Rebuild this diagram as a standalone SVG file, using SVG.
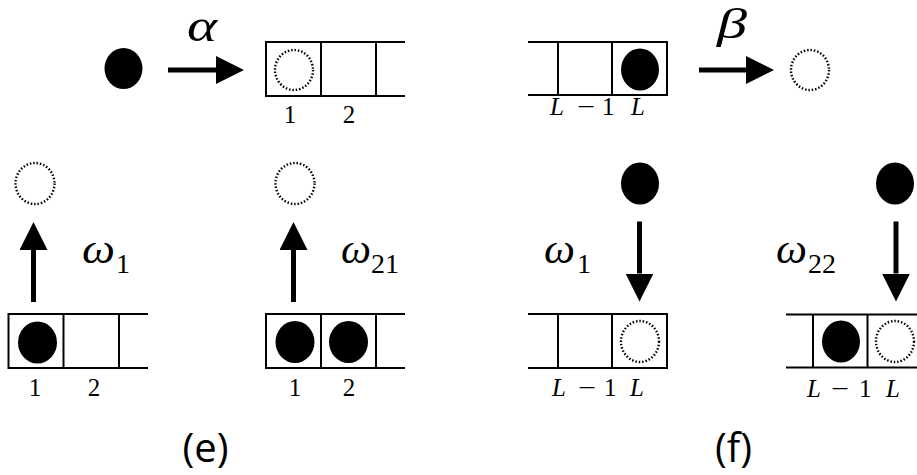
<svg xmlns="http://www.w3.org/2000/svg" width="917" height="475" viewBox="0 0 917 475">
  <style>
    .cell { fill: none; stroke: #000; stroke-width: 2; }
    .full { fill: #000; }
    .empty { fill: none; stroke: #000; stroke-width: 2.4; stroke-dasharray: 1.5 1.9; }
    .shaft { stroke: #000; stroke-width: 5; fill: none; }
    .math { font-family: "Liberation Serif", "DejaVu Serif", serif; font-style: italic; fill: #000; }
    .num { font-family: "Liberation Serif", "DejaVu Serif", serif; font-size: 25px; fill: #000; }
    .idx { font-family: "Liberation Serif", "DejaVu Serif", serif; font-size: 25px; fill: #000; }
    .sub { font-family: "Liberation Serif", "DejaVu Serif", serif; font-size: 28px; fill: #000; }
    .panel { font-family: "Open Sans", "DejaVu Sans", sans-serif; font-size: 40px; fill: #000; text-anchor: middle; }
  </style>
  <defs>
    <marker id="head" markerUnits="userSpaceOnUse" markerWidth="28" markerHeight="28" refX="0" refY="14" orient="auto">
      <path d="M0,0 L28,14 L0,28 z" fill="#000"/>
    </marker>
  </defs>

  <!-- (e) top: particle entering site 1 -->
  <g id="inject-source">
    <ellipse class="full" cx="123.5" cy="68.5" rx="19" ry="20.5"/>
  </g>
  <g id="inject-lattice">
    <path class="cell" d="M405,42 H266 V96 H405 M321,42 V96 M376,42 V96"/>
    <ellipse class="empty" cx="294" cy="70" rx="19" ry="20"/>
    <text class="num" x="290" y="123" text-anchor="middle">1</text>
    <text class="num" x="349" y="123" text-anchor="middle">2</text>
  </g>
  <text class="math" x="187" y="41" font-size="46" textLength="30" lengthAdjust="spacingAndGlyphs">α</text>

  <!-- (f) top: particle leaving site L -->
  <g id="eject-lattice">
    <path class="cell" d="M528,42 H667 V95 H528 M558,42 V95 M612,42 V95"/>
    <ellipse class="full" cx="640" cy="69.5" rx="19" ry="21"/>
    <text class="idx" y="115"><tspan class="math" x="550">L</tspan><tspan x="577" textLength="18" lengthAdjust="spacingAndGlyphs">−</tspan><tspan x="602">1</tspan><tspan class="math" x="631">L</tspan></text>
  </g>
  <g id="eject-target">
    <ellipse class="empty" cx="810" cy="70" rx="19" ry="20"/>
  </g>
  <text class="math" x="717" y="38" font-size="42" textLength="30" lengthAdjust="spacingAndGlyphs">β</text>

  <!-- (e) bottom left: site 1 empties, rate w1 -->
  <g id="e-out-1">
    <ellipse class="empty" cx="35" cy="183.5" rx="19.5" ry="20.5"/>
  </g>
  <g id="e-lattice-1">
    <path class="cell" d="M148,314 H8.5 V368 H148 M63.5,314 V368 M119,314 V368"/>
    <ellipse class="full" cx="37.5" cy="342.5" rx="19.5" ry="21"/>
    <text class="num" x="35" y="396" text-anchor="middle">1</text>
    <text class="num" x="94" y="396" text-anchor="middle">2</text>
  </g>
  <text x="82" y="263"><tspan class="math" font-size="42" textLength="33" lengthAdjust="spacingAndGlyphs">ω</tspan><tspan class="sub" x="116" y="273">1</tspan></text>

  <!-- (e) bottom right: site 1 empties with site 2 occupied, rate w21 -->
  <g id="e-out-2">
    <ellipse class="empty" cx="295" cy="183.5" rx="19.5" ry="20.5"/>
  </g>
  <g id="e-lattice-2">
    <path class="cell" d="M405,314 H266 V368 H405 M321,314 V368 M376,314 V368"/>
    <ellipse class="full" cx="295" cy="342" rx="19.5" ry="21"/>
    <ellipse class="full" cx="348.5" cy="342" rx="19.5" ry="21"/>
    <text class="num" x="295" y="396" text-anchor="middle">1</text>
    <text class="num" x="349" y="396" text-anchor="middle">2</text>
  </g>
  <text x="341" y="263"><tspan class="math" font-size="42" textLength="30" lengthAdjust="spacingAndGlyphs">ω</tspan><tspan class="sub" x="371" y="273">21</tspan></text>

  <!-- (f) bottom left: site L filled, rate w1 -->
  <g id="f-in-1">
    <ellipse class="full" cx="640" cy="183.5" rx="19" ry="21"/>
  </g>
  <g id="f-lattice-1">
    <path class="cell" d="M528,314 H667 V368 H528 M558,314 V368 M612,314 V368"/>
    <ellipse class="empty" cx="640" cy="341.5" rx="19" ry="20.5"/>
    <text class="idx" y="396"><tspan class="math" x="552">L</tspan><tspan x="578" textLength="18" lengthAdjust="spacingAndGlyphs">−</tspan><tspan x="604">1</tspan><tspan class="math" x="630">L</tspan></text>
  </g>
  <text x="544" y="263"><tspan class="math" font-size="42" textLength="31" lengthAdjust="spacingAndGlyphs">ω</tspan><tspan class="sub" x="577" y="273">1</tspan></text>

  <!-- (f) bottom right: site L filled with L-1 occupied, rate w22 -->
  <g id="f-in-2">
    <ellipse class="full" cx="895" cy="183.5" rx="19" ry="21"/>
  </g>
  <g id="f-lattice-2">
    <path class="cell" d="M786,314.5 H930 M786,367.5 H930 M813,314.5 V367.5 M867.5,314.5 V367.5"/>
    <ellipse class="full" cx="841" cy="341.5" rx="19" ry="21"/>
    <ellipse class="empty" cx="895" cy="341.5" rx="19" ry="20.5"/>
    <text class="idx" y="397"><tspan class="math" x="807">L</tspan><tspan x="831" textLength="18" lengthAdjust="spacingAndGlyphs">−</tspan><tspan x="859">1</tspan><tspan class="math" x="886">L</tspan></text>
  </g>
  <text x="776" y="263"><tspan class="math" font-size="42" textLength="31" lengthAdjust="spacingAndGlyphs">ω</tspan><tspan class="sub" x="808" y="273">22</tspan></text>

  <!-- transition arrows -->
  <g id="connectors">
    <line class="shaft" x1="168" y1="70" x2="216" y2="70" marker-end="url(#head)"/>
    <line class="shaft" x1="699" y1="70" x2="746" y2="70" marker-end="url(#head)"/>
    <line class="shaft" x1="33.5" y1="302" x2="33.5" y2="250" marker-end="url(#head)"/>
    <line class="shaft" x1="293.5" y1="302" x2="293.5" y2="250" marker-end="url(#head)"/>
    <line class="shaft" x1="639.5" y1="221.5" x2="639.5" y2="273.5" marker-end="url(#head)"/>
    <line class="shaft" x1="896" y1="221.5" x2="896" y2="273.5" marker-end="url(#head)"/>
  </g>

  <!-- panel captions -->
  <text class="panel" x="205.5" y="462">(e)</text>
  <text class="panel" x="733.5" y="462">(f)</text>
</svg>
